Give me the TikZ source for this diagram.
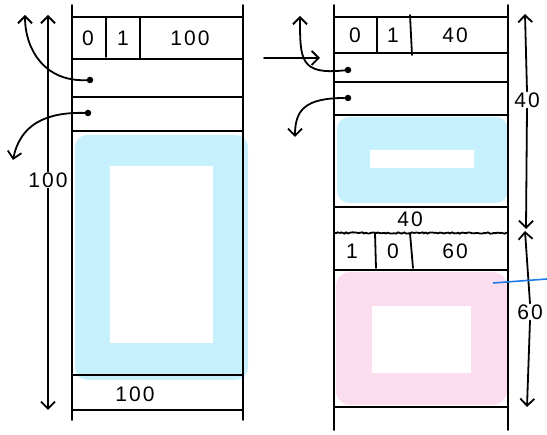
\documentclass[tikz,border=0pt]{standalone}
\usepackage{fontspec}
\setmainfont{Liberation Sans}[LetterSpace=10]
\usetikzlibrary{arrows.meta,decorations.pathmorphing}
\definecolor{fillblue}{HTML}{C6F1FC}
\definecolor{fillpink}{HTML}{FCDDF0}
\definecolor{lineblue}{HTML}{1E7BE6}
\begin{document}
\begin{tikzpicture}[x=1pt,y=-1pt,
  ln/.style={line width=1.8pt,line cap=round},
  arr/.style={ln,-{Straight Barb[length=7pt,width=14pt]}},
  lbl/.style={font=\fontsize{21}{21}\selectfont,inner sep=1pt},
  dot/.style={circle,fill=black,inner sep=0pt,minimum size=6.5pt}]
\useasboundingbox (0,0) rectangle (547,435);
% ---------- left column ----------
\fill[fillblue,rounded corners=12pt] (75,135) rectangle (248,380);
\fill[white] (110,166) rectangle (213,343);
\draw[ln] (72,5) -- (72,420);
\draw[ln] (243,5) -- (243,420);
\foreach \y in {17,59,97,131,375,410} \draw[ln] (72,\y) -- (243,\y);
\draw[ln] (106,17) -- (106,57);
\draw[ln] (140,17) -- (140,59);
\node[lbl] (l0) at (88,38) {0};
\node[lbl] (l1) at (123,38) {1};
\node[lbl] (l100) at (190,38) {100};
\node[lbl] (lfoot) at (135,394) {100};
\node[dot] (ld1) at (90,80) {};
\node[dot] (ld2) at (88,113) {};
\coordinate (la1) at (25,15);
\coordinate (la2) at (13,160);
\draw[arr] (ld1) .. controls (45,82) and (25,50) .. (la1);
\draw[arr] (ld2) .. controls (45,112) and (20,125) .. (la2);
\coordinate (lt) at (48,15);
\coordinate (lb) at (48,410);
\node[lbl] (lsize) at (48,180) {100};
\draw[arr] (lsize.north) -- (lt);
\draw[arr] (lsize.south) -- (lb);
% ---------- right column ----------
\fill[fillblue,rounded corners=12pt] (337,117) rectangle (508,203);
\fill[white] (370,150) rectangle (474,168);
\fill[fillpink,rounded corners=14pt] (336,272) rectangle (507,405);
\fill[white] (372,306) rectangle (471,373);
\draw[ln] (334,5) -- (334,430);
\draw[ln] (508,5) -- (508,430);
\foreach \y in {17,53,82,115,207,270,407} \draw[ln] (334,\y) -- (508,\y);
\draw[ln,decorate,decoration={random steps,segment length=2pt,amplitude=0.7pt}] (334,233) -- (508,233);
\draw[ln] (377,17) -- (377,53);
\draw[ln] (410,15) -- (412,55);
\draw[ln] (375,233) -- (376,268);
\draw[ln] (410,233) -- (413,268);
\node[lbl] (r0) at (355,35) {0};
\node[lbl] (r1) at (393,35) {1};
\node[lbl] (r40) at (455,35) {40};
\node[lbl] (rmid) at (410,219) {40};
\node[lbl] (s1) at (352,251) {1};
\node[lbl] (s0) at (393,251) {0};
\node[lbl] (s60) at (455,251) {60};
\node[dot] (rd1) at (348,70) {};
\node[dot] (rd2) at (348,98) {};
\coordinate (ra1) at (300,16);
\coordinate (ra2) at (295,137);
\coordinate (hin) at (264,58);
\coordinate (hout) at (320,58);
\draw[arr] (hin) -- (hout);
\draw[arr] (rd1) .. controls (300,75) and (300,60) .. (ra1);
\draw[arr] (rd2) .. controls (305,98) and (295,110) .. (ra2);
\node[lbl] (rsize1) at (527,100) {40};
\coordinate (rt1) at (525,14);
\coordinate (rb1) at (526,229);
\draw[arr] (rsize1.north) -- (rt1);
\draw[arr] (rsize1.south) -- (rb1);
\node[lbl] (rsize2) at (530,312) {60};
\coordinate (rt2) at (525,231);
\coordinate (rb2) at (527,407);
\draw[arr] (rsize2.north) -- (rt2);
\draw[arr] (rsize2.south) -- (rb2);
\coordinate (bl1) at (493,283);
\coordinate (bl2) at (547,279);
\draw[lineblue,line width=1.6pt] (bl1) -- (bl2);
\end{tikzpicture}
\end{document}
